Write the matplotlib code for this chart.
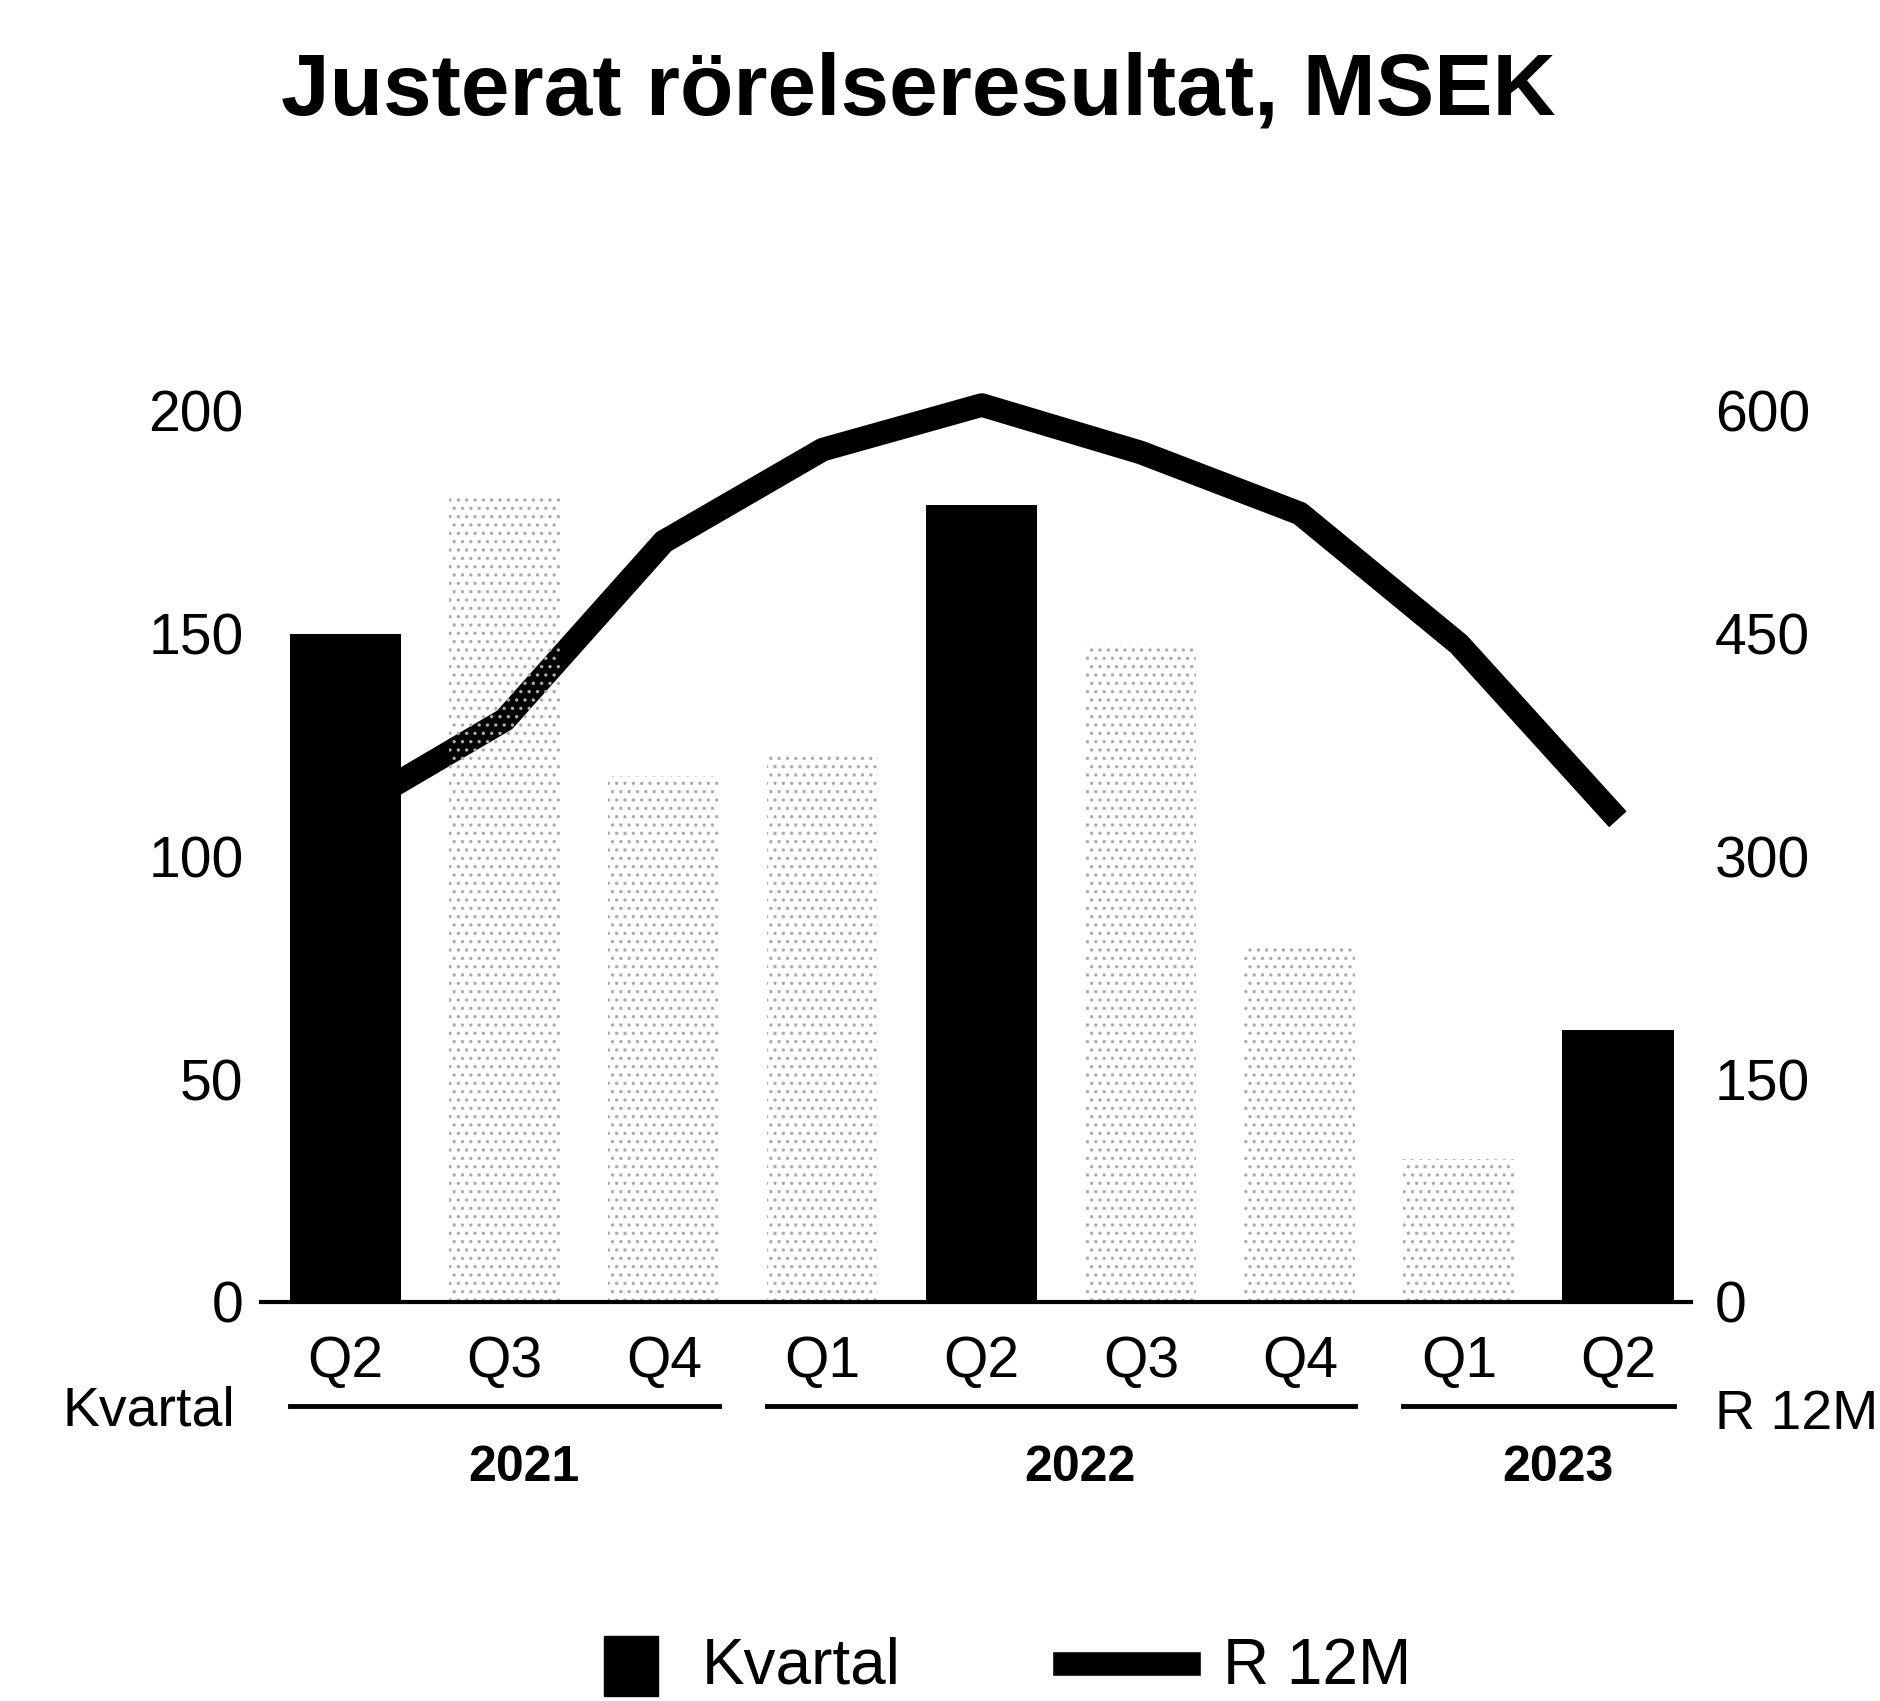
import matplotlib
matplotlib.use("Agg")
import matplotlib.pyplot as plt
from matplotlib.patches import Rectangle
from matplotlib.lines import Line2D

plt.rcParams['font.family'] = ['Liberation Sans', 'DejaVu Sans']
plt.rcParams['hatch.linewidth'] = 1.2

# quarterly adjusted operating profit (left axis, MSEK)
quarters = ["Q2", "Q3", "Q4", "Q1", "Q2", "Q3", "Q4", "Q1", "Q2"]
kvartal = [150, 181, 118, 123, 179, 148, 80, 32, 61]
# rolling 12 months (right axis, MSEK)
r12m = [329, 392, 512, 574, 604, 572, 531, 443, 325]
# highlighted (solid) bars
highlight = [True, False, False, False, True, False, False, False, True]
# year groups: (label, first index, last index)
years = [("2021", 0, 2), ("2022", 3, 6), ("2023", 7, 8)]

left_ticks = [0, 50, 100, 150, 200]
right_ticks = [0, 150, 300, 450, 600]

fig = plt.figure(figsize=(18.81, 17.01), dpi=100)
ax = fig.add_axes([0.139, 0.2346, 0.760, 0.5238])
ax2 = ax.twinx()
# bars on top of the line
ax.set_zorder(ax2.get_zorder() + 1)
ax.patch.set_visible(False)

x = list(range(len(quarters)))
for xi, val, hl in zip(x, kvartal, highlight):
    if hl:
        ax.bar(xi, val, width=0.70, color="black", linewidth=0)
    else:
        ax.bar(xi, val, width=0.70, facecolor="none", edgecolor="#ababab",
               hatch="..", linewidth=0)

ax2.plot(x, r12m, color="black", lw=17, solid_joinstyle="round",
         solid_capstyle="butt", clip_on=False)

ax.set_xlim(-0.53, 8.46)
ax.set_ylim(0, 200)
ax2.set_ylim(0, 600)

ax.set_yticks(left_ticks)
ax2.set_yticks(right_ticks)
ax.tick_params(axis="y", length=0, labelsize=41, pad=13)
ax2.tick_params(axis="y", length=0, labelsize=41, pad=17)
ax.set_xticks(x)
ax.set_xticklabels(quarters)
ax.tick_params(axis="x", length=0, labelsize=41, pad=24)

for a in (ax, ax2):
    for s in ("top", "left", "right"):
        a.spines[s].set_visible(False)
    a.spines["bottom"].set_linewidth(3)
ax2.spines["bottom"].set_visible(False)

# group lines and year labels below the quarter labels
trans = ax.get_xaxis_transform()
for label, i0, i1 in years:
    ax.plot([i0 - 0.35, i1 + 0.35], [-0.117, -0.117], transform=trans,
            color="black", lw=3.5, clip_on=False)
    ax.text((i0 + i1) / 2 + 0.12, -0.186, label, transform=trans, ha="center",
            va="center", fontsize=36, fontweight="bold")

fig.text(0.033, 0.170, "Kvartal", fontsize=40, ha="left", va="center")
fig.text(0.912, 0.168, "R 12M", fontsize=40, ha="left", va="center")

fig.text(0.488, 0.946, "Justerat rörelseresultat, MSEK", fontsize=63,
         fontweight="bold", ha="center", va="center")

# legend
fig.patches.append(Rectangle((0.321, 0.003), 0.029, 0.035, color="black",
                             transform=fig.transFigure))
fig.text(0.373, 0.020, "Kvartal", fontsize=46, ha="left", va="center")
fig.lines.append(Line2D([0.566, 0.632], [0.022, 0.022], color="black", lw=17,
                        transform=fig.transFigure))
fig.text(0.650, 0.020, "R 12M", fontsize=46, ha="left", va="center")

fig.savefig("out.png", dpi=100)
